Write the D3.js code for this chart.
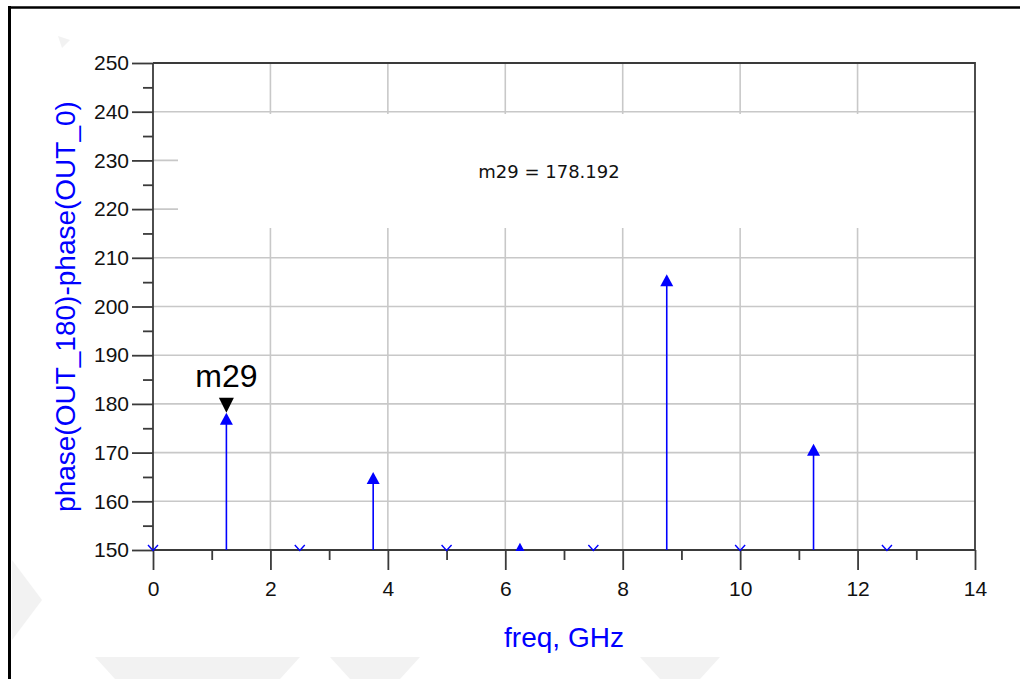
<!DOCTYPE html>
<html>
<head>
<meta charset="utf-8">
<script src="https://cdn.jsdelivr.net/npm/d3@7"></script>
<style>
  html, body { margin: 0; padding: 0; background: #fff; }
  svg { display: block; }
  text { font-family: "Liberation Sans", Arial, Helvetica, sans-serif; }
</style>
</head>
<body>
<svg id="chart" width="1020" height="679"></svg>
<script>
// Spectrum phase difference between the two outputs at each harmonic
const freqGHz = [1.25, 3.75, 6.25, 8.75, 11.25];
const phaseDiff = [178.192, 166.0, 151.5, 206.6, 171.8];
// Harmonics whose phase difference falls below the plotted range
const belowRangeFreq = [0, 2.5, 5, 7.5, 10, 12.5];

const xTicks = [0, 2, 4, 6, 8, 10, 12, 14];
const xMinorTicks = [1, 3, 5, 7, 9, 11, 13];
const yTicks = [150, 160, 170, 180, 190, 200, 210, 220, 230, 240, 250];
const yMinorTicks = [155, 165, 175, 185, 195, 205, 215, 225, 235, 245];

const markerName = "m29";
const markerFreq = 1.25;
const markerValue = 178.192;

const xLabel = "freq, GHz";
const yLabel = "phase(OUT_180)-phase(OUT_0)";

const svg = d3.select("#chart");
const W = 1020, H = 679;
const plot = { left: 153, right: 975, top: 63, bottom: 550 };

const x = d3.scaleLinear().domain([0, 14]).range([plot.left, plot.right]);
const y = d3.scaleLinear().domain([150, 250]).range([plot.bottom, plot.top]);

const blue = "#0000ff";
const axisColor = "#3a3a3a";
const gridColor = "#c8c8c8";

svg.append("defs").append("clipPath").attr("id", "plot-clip")
  .append("rect").attr("x", plot.left).attr("y", plot.top)
  .attr("width", plot.right - plot.left).attr("height", plot.bottom - plot.top + 1);

// faint background watermark
const wm = svg.append("g").attr("fill", "#f2f2f2");
[
  [[12, 560], [42, 600], [12, 640]],
  [[95, 657], [300, 657], [280, 679], [115, 679]],
  [[330, 657], [420, 657], [400, 679], [350, 679]],
  [[640, 657], [720, 657], [700, 679], [660, 679]],
  [[58, 36], [70, 40], [62, 48]]
].forEach(p => wm.append("polygon").attr("points", p.map(d => d.join(",")).join(" ")));

// outer frame
svg.append("line").attr("x1", 9).attr("x2", W).attr("y1", 7.5).attr("y2", 7.5)
  .attr("stroke", "#000").attr("stroke-width", 2.5);
svg.append("line").attr("x1", 9.5).attr("x2", 9.5).attr("y1", 6).attr("y2", H)
  .attr("stroke", "#000").attr("stroke-width", 3);

// plot background
svg.append("rect").attr("x", plot.left).attr("y", plot.top)
  .attr("width", plot.right - plot.left).attr("height", plot.bottom - plot.top)
  .attr("fill", "#fff");

// grid
const grid = svg.append("g").attr("stroke", gridColor).attr("stroke-width", 1.6);
grid.selectAll(".gx").data(xTicks.slice(1, -1)).join("line")
  .attr("x1", d => x(d)).attr("x2", d => x(d))
  .attr("y1", plot.top).attr("y2", plot.bottom);
grid.selectAll(".gy").data(yTicks.slice(1, -1)).join("line")
  .attr("x1", plot.left).attr("x2", plot.right)
  .attr("y1", d => y(d)).attr("y2", d => y(d));

// marker readout box (blanks the grid behind it)
svg.append("rect").attr("x", 178).attr("y", 114)
  .attr("width", plot.right - 178).attr("height", 114).attr("fill", "#fff");
svg.append("text")
  .attr("x", 549).attr("y", 178)
  .attr("text-anchor", "middle")
  .style("font-family", "'DejaVu Sans', sans-serif")
  .style("font-size", "18px")
  .attr("fill", "#111")
  .text(`${markerName} = ${markerValue.toFixed(3)}`);

// plot frame (top / right)
svg.append("path")
  .attr("d", `M${plot.left},${plot.top}H${plot.right}V${plot.bottom}`)
  .attr("fill", "none").attr("stroke", axisColor).attr("stroke-width", 1.8);

// x axis
const xAxis = d3.axisBottom(x).tickValues(xTicks).tickSize(20).tickPadding(6)
  .tickFormat(d3.format("d"));
const gx = svg.append("g").attr("transform", `translate(0,${plot.bottom})`).call(xAxis);
gx.select(".domain").attr("stroke", axisColor).attr("stroke-width", 1.8)
  .attr("d", `M${plot.left},0H${plot.right}`);
gx.selectAll(".tick line").attr("stroke", axisColor).attr("stroke-width", 1.8);
gx.selectAll(".tick text").attr("fill", "#111")
  .style("font-size", "21px").style("font-family", "'Liberation Sans', Arial, sans-serif")
  .attr("dy", "0.95em");
const gxm = svg.append("g").attr("transform", `translate(0,${plot.bottom})`)
  .call(d3.axisBottom(x).tickValues(xMinorTicks).tickSize(10).tickFormat(""));
gxm.select(".domain").remove();
gxm.selectAll(".tick line").attr("stroke", axisColor).attr("stroke-width", 1.8);

// y axis
const yAxis = d3.axisLeft(y).tickValues(yTicks).tickSize(21).tickPadding(3)
  .tickFormat(d3.format("d"));
const gy = svg.append("g").attr("transform", `translate(${plot.left},0)`).call(yAxis);
gy.select(".domain").attr("stroke", axisColor).attr("stroke-width", 1.8)
  .attr("d", `M0,${plot.top}V${plot.bottom}`);
gy.selectAll(".tick line").attr("stroke", axisColor).attr("stroke-width", 1.8);
gy.selectAll(".tick text").attr("fill", "#111")
  .style("font-size", "21px").style("font-family", "'Liberation Sans', Arial, sans-serif");
const gym = svg.append("g").attr("transform", `translate(${plot.left},0)`)
  .call(d3.axisLeft(y).tickValues(yMinorTicks).tickSize(10).tickFormat(""));
gym.select(".domain").remove();
gym.selectAll(".tick line").attr("stroke", axisColor).attr("stroke-width", 1.8);

// axis titles
svg.append("text")
  .attr("x", (plot.left + plot.right) / 2).attr("y", 647)
  .attr("text-anchor", "middle").attr("fill", blue)
  .style("font-size", "28px")
  .text(xLabel);
svg.append("text")
  .attr("transform", `translate(75,${(plot.top + plot.bottom) / 2}) rotate(-90)`)
  .attr("text-anchor", "middle").attr("fill", blue)
  .style("font-size", "28px")
  .text(yLabel);

// stems
const data = freqGHz.map((f, i) => ({ f, v: phaseDiff[i] }));
const marks = svg.append("g").attr("clip-path", "url(#plot-clip)");
marks.append("g").selectAll("line").data(data).join("line")
  .attr("x1", d => x(d.f)).attr("x2", d => x(d.f))
  .attr("y1", y(150)).attr("y2", d => y(d.v) + 6)
  .attr("stroke", blue).attr("stroke-width", 1.6);
marks.append("g").selectAll("path").data(data).join("path")
  .attr("transform", d => `translate(${x(d.f)},${y(d.v)})`)
  .attr("d", "M0,0L6.5,12L-6.5,12Z")
  .attr("fill", blue);

// below-range markers
svg.append("g").selectAll("path").data(belowRangeFreq).join("path")
  .attr("transform", d => `translate(${x(d)},${y(150)})`)
  .attr("d", "M-5,-5L0,0.5L5,-5")
  .attr("fill", "none").attr("stroke", blue).attr("stroke-width", 1.4);

// marker m29
const mx = x(markerFreq), my = y(markerValue);
svg.append("path")
  .attr("transform", `translate(${mx},${my})`)
  .attr("d", "M0,0L-7.5,-15L7.5,-15Z")
  .attr("fill", "#000");
svg.append("text")
  .attr("x", mx).attr("y", my - 26)
  .attr("text-anchor", "middle").attr("fill", "#000")
  .style("font-size", "32px")
  .text(markerName);
</script>
</body>
</html>
